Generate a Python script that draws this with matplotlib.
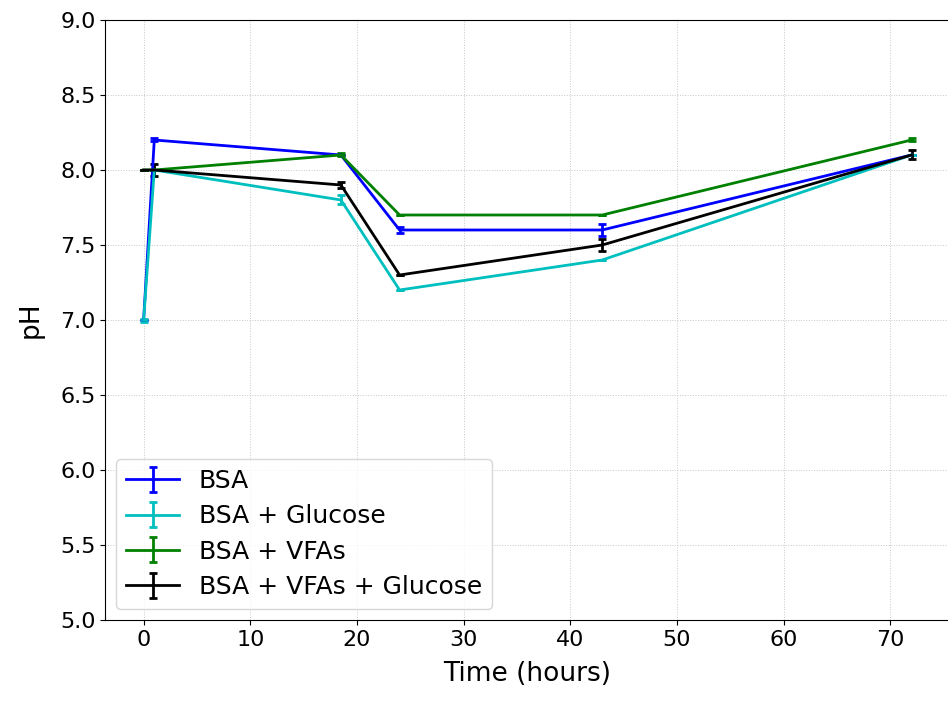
import matplotlib
matplotlib.use("Agg")
import matplotlib.pyplot as plt

# Sampling times (hours)
time_h = [0, 1, 18.5, 24, 43, 72]

# pH readings per condition
ph_bsa = [7.0, 8.2, 8.1, 7.6, 7.6, 8.1]
ph_bsa_glu = [7.0, 8.0, 7.8, 7.2, 7.4, 8.1]
ph_bsa_vfa = [8.0, 8.0, 8.1, 7.7, 7.7, 8.2]
ph_bsa_vfa_glu = [8.0, 8.0, 7.9, 7.3, 7.5, 8.1]

# standard deviations
err_bsa = [0.0, 0.01, 0.0, 0.02, 0.04, 0.0]
err_bsa_glu = [0.01, 0.0, 0.03, 0.0, 0.0, 0.0]
err_bsa_vfa = [0.0, 0.0, 0.01, 0.0, 0.0, 0.01]
err_bsa_vfa_glu = [0.0, 0.04, 0.02, 0.0, 0.04, 0.03]

labels = ["BSA", "BSA + Glucose", "BSA + VFAs", "BSA + VFAs + Glucose"]
colors = ["b", "c", "g", "k"]

fig = plt.figure(figsize=(9.48, 7.01), dpi=100)
ax = fig.add_axes([0.111, 0.1155, 0.891, 0.856])

series = [(ph_bsa, err_bsa), (ph_bsa_glu, err_bsa_glu),
          (ph_bsa_vfa, err_bsa_vfa), (ph_bsa_vfa_glu, err_bsa_vfa_glu)]
for (ph, err), lab, col in zip(series, labels, colors):
    ax.errorbar(time_h, ph, yerr=err, color=col, label=lab, lw=2,
                capsize=3, capthick=2, elinewidth=2)

ax.set_ylim(5.0, 9.0)
ax.set_xlim(-3.6, 75.6)
ax.set_xticks(range(0, 80, 10))
ax.grid(True, linestyle=":", color="#c8c8c8", lw=0.7)
ax.set_axisbelow(True)
ax.tick_params(labelsize=16)
ax.set_xlabel("Time (hours)", fontsize=19, labelpad=8)
ax.set_ylabel("pH", fontsize=19, labelpad=12)
ax.legend(loc="lower left", fontsize=18, handlelength=2.1,
          labelspacing=0.45, borderaxespad=0.45)

fig.savefig("out.png", dpi=100)
